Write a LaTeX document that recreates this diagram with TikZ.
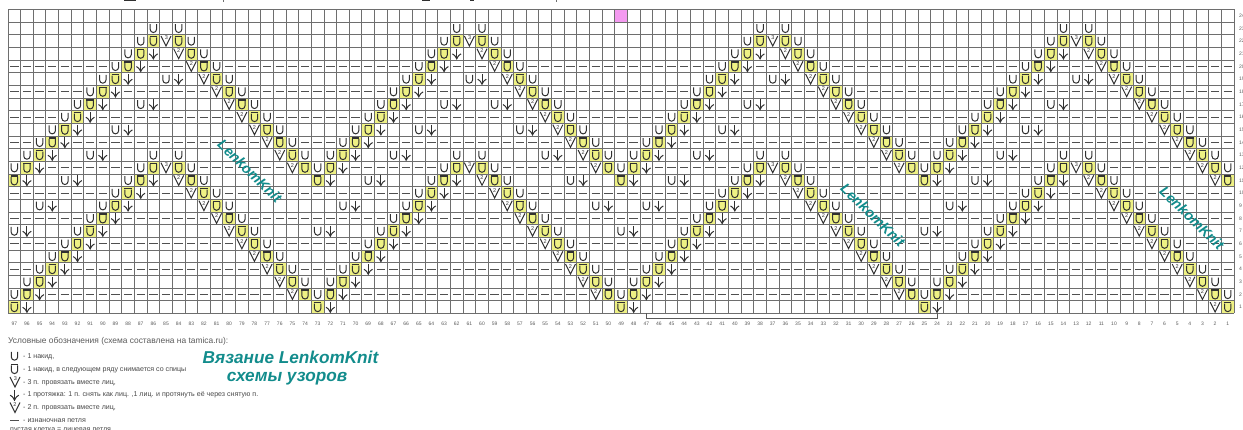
\documentclass[tikz,border=0pt]{standalone}
\usepackage{fontspec}
\setmainfont{Liberation Sans}
\definecolor{gridc}{HTML}{6E6E6E}
\definecolor{symc}{HTML}{303030}
\definecolor{yel}{HTML}{EEF184}
\definecolor{pinkc}{HTML}{F49AF0}
\definecolor{tealc}{HTML}{128C8C}
\definecolor{txtc}{HTML}{5A5A5A}
\tikzset{
  gridline/.style={draw=gridc,line width=0.9pt},
  symline/.style={draw=symc,line width=1pt},
  uu/.pic={\draw[symline] (-3.2,-4.2) -- (-3.2,1) arc[start angle=180,end angle=0,radius=3.2] -- (3.2,-4.2);},
  oo/.pic={\draw[symline] (-3.2,-3.5) -- (-3.2,1.4) arc[start angle=180,end angle=0,radius=3.2] -- (3.2,-3.5);
           \draw[draw=symc,line width=1.5pt] (-3.7,-4.4) -- (3.7,-4.4);},
  dn/.pic={\draw[symline] (0,-5) -- (0,5);
           \draw[symline] (-4.3,0.2) .. controls (-2,1.6) .. (0,5.2) .. controls (2,1.6) .. (4.3,0.2);},
  vtwo/.pic={\draw[symline] (-5,-5) -- (0,5) -- (5,-5);
           \node[font=\fontsize{5.5}{6}\selectfont,text=symc,inner sep=0pt] at (0,-2.6) {2};},
  vthree/.pic={\draw[symline] (-5,-5) -- (0,5) -- (5,-5);
           \node[font=\fontsize{5.5}{6}\selectfont,text=symc,inner sep=0pt] at (0.3,-3) {3};},
  dashsym/.pic={\draw[draw=symc!85!white,line width=1pt] (-4.2,0) -- (4.2,0);},
  collab/.style={font=\fontsize{5}{6}\selectfont,text=txtc,inner sep=0pt},
  rowlab/.style={font=\fontsize{5}{6}\selectfont,text=txtc,inner sep=0pt,anchor=west},
  legtxt/.style={font=\fontsize{7.05}{8}\selectfont,text=txtc!80!black,inner sep=0pt,anchor=west},
  legtop/.style={font=\fontsize{8.4}{9}\selectfont,text=txtc,inner sep=0pt,anchor=west},
  water/.style={font=\fontsize{14.3}{16}\selectfont\bfseries\itshape,text=tealc,inner sep=0pt,rotate=-44},
  bigt/.style={font=\fontsize{17.2}{18}\selectfont\bfseries\itshape,text=tealc,inner sep=0pt},
}
\newcommand\cxp[1]{{8+12.64*(#1-0.5)}}
\newcommand\ryp[1]{{313.4-12.67*(#1-0.5)}}
\newcommand\mygob[3]{}
\newcommand\fillO[2]{\ifnum#1>0 \ifnum#1<98
  \fill[yel] ({8+12.64*(#1-1)},{313.4-12.67*#2}) rectangle ++(12.64,12.67);\fi\fi}
\newcommand\drawS[3]{\ifnum#2>0 \ifnum#2<98
  \ifcsname occ-#2-#3\endcsname\else
  \expandafter\gdef\csname occ-#2-#3\endcsname{}%
  \pic at (\cxp{#2},\ryp{#3}) {#1};\fi\fi\fi}
\newcommand\riseline[1]{%
  \foreach \rr in {#1,...,\numexpr#1+11\relax}{%
    \pgfmathtruncatemacro\colv{\rr-#1+1+24*\k}%
    \pgfmathtruncatemacro\cm{\colv-1}%
    \pgfmathtruncatemacro\cp{\colv+1}%
    \pgfmathtruncatemacro\topr{#1+11}%
    \doO{oo}{\colv}{\rr}%
    \ifnum\rr>#1 \doS{uu}{\cm}{\rr}\fi
    \ifnum\rr<\topr \doS{dn}{\cp}{\rr}\fi
  }}
\newcommand\fallline[3]{% offset, low row, high row
  \foreach \rr in {#2,...,#3}{%
    \pgfmathtruncatemacro\colv{#1-\rr+24*\k}%
    \pgfmathtruncatemacro\cm{\colv-1}%
    \pgfmathtruncatemacro\cp{\colv+1}%
    \doO{oo}{\colv}{\rr}%
    \doS{uu}{\cp}{\rr}%
    \ifnum\rr=#3 \doS{vthree}{\cm}{\rr}\else \doS{vtwo}{\cm}{\rr}\fi
  }}
\newcommand\wholepattern{%
  \foreach \k in {0,1,2,3,4}{%
    \riseline{1}%
    \riseline{11}%
  }%
  \foreach \k in {0,1,2,3}{%
    \fallline{26}{2}{12}%
    \fallline{36}{12}{22}%
    \pgfmathtruncatemacro\pa{12+24*\k}%
    \pgfmathtruncatemacro\pb{14+24*\k}%
    \doS{uu}{\pa}{13}\doS{uu}{\pb}{13}%
    \doS{uu}{\pa}{23}\doS{uu}{\pb}{23}%
    \foreach \rr in {7,9,...,19}{%
      \pgfmathtruncatemacro\colv{\rr-6+24*\k}%
      \pgfmathtruncatemacro\cp{\colv+1}%
      \doS{uu}{\colv}{\rr}\doS{dn}{\cp}{\rr}%
    }%
  }%
  \foreach \rr in {7,9,...,19}{%
    \pgfmathtruncatemacro\colv{56-\rr}%
    \pgfmathtruncatemacro\cp{\colv+1}%
    \doS{uu}{\colv}{\rr}\doS{dn}{\cp}{\rr}%
  }%
  \doS{vtwo}{96}{1}\doS{vtwo}{96}{11}%
}
\begin{document}
\begin{tikzpicture}[x=1pt,y=-1pt]
\useasboundingbox (0,0) rectangle (1243,430);
% cropped descenders of the title above the crop
\fill[symc] (124,0) rectangle (136,1.2);
\fill[gridc] (222.5,0) rectangle (224,1.6);
\fill[symc] (422,0) rectangle (430,1.2);
\fill[symc] (470,0) rectangle (474,1.4);
\fill[gridc] (555.5,0) rectangle (557,1.6);
% yellow cells
\let\doS\mygob
\def\doO#1#2#3{\fillO{#2}{#3}}
\wholepattern
\fill[pinkc] (\cxp{49},\ryp{24}) ++(-6.32,-6.33) rectangle ++(12.64,12.67);
% grid
\foreach \i in {0,...,97}{\draw[gridline] ({8+12.64*\i},9.4) -- ({8+12.64*\i},313.4);}
\foreach \j in {0,...,24}{\draw[gridline] (8,{9.4+12.667*\j}) -- (1234.1,{9.4+12.667*\j});}
% symbols
\let\doO\drawS
\let\doS\drawS
\wholepattern
% purl dashes on the even rows
\foreach \rr in {2,4,...,20}{%
  \foreach \colv in {1,...,97}{%
    \ifcsname occ-\colv-\rr\endcsname\else
      \pic at (\cxp{\colv},\ryp{\rr}) {dashsym};
    \fi
  }}
% column numbers
\foreach \colv in {1,...,97}{%
  \pgfmathtruncatemacro\lab{98-\colv}%
  \node[collab] (col\lab) at (\cxp{\colv},324) {\lab};
}
% row numbers
\foreach \rr in {1,...,24}{%
  \node[rowlab] (row\rr) at (1239,{\ryp{\rr}}) {\rr};
}
% repeat bracket
\coordinate (brA) at (\cxp{51},313.4);
\coordinate (brB) at (\cxp{74},313.4);
\draw[draw=symc!80!white,line width=0.8pt] (brA) -- ++(0,4.8) -| (brB);
% watermarks
\node[water] (wm1) at (250,171) {LenkomKnit};
\node[water] (wm2) at (873,215) {LenkomKnit};
\node[water] (wm3) at (1192,218) {LenkomKnit};
% legend
\node[legtop] (legtitle) at (8,341.5) {Условные обозначения (схема составлена на tamica.ru):};
\pic at (14.5,356) {uu};
\pic at (14.5,369) {oo};
\pic at (15,382) {vthree};
\pic at (14.5,395) {dn};
\pic at (15,407.5) {vtwo};
\pic at (14.5,420) {dashsym};
\node[legtxt] (l1) at (23,356.8) {- 1 накид,};
\node[legtxt] (l2) at (23,369.5) {- 1 накид, в следующем ряду снимается со спицы};
\node[legtxt] (l3) at (23,382.3) {- 3 п. провязать вместе лиц,};
\node[legtxt] (l4) at (23,395.3) {- 1 протяжка: 1 п. снять как лиц. ,1 лиц. и протянуть её через снятую п.};
\node[legtxt] (l5) at (23,407.8) {- 2 п. провязать вместе лиц,};
\node[legtxt] (l6) at (23,420.5) {- изнаночная петля};
\node[legtxt] (l7) at (10,430) {пустая клетка = лицевая петля};
% big title
\node[bigt] (t1) at (290.5,357.5) {Вязание LenkomKnit};
\node[bigt] (t2) at (287,378.5) {схемы узоров};
\end{tikzpicture}
\end{document}
